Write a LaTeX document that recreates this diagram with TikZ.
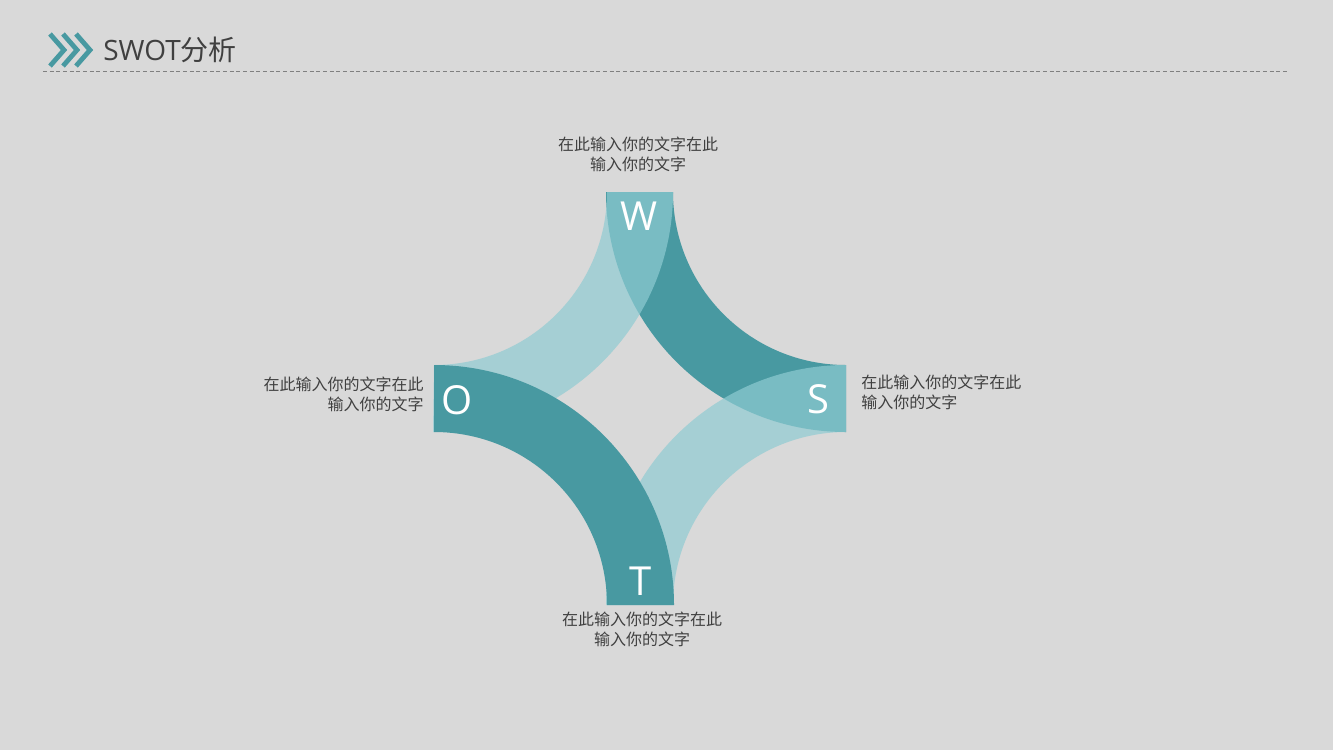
\documentclass[tikz,border=0pt]{standalone}
\usepackage{fontspec}
\setmainfont{Open Sans}
\newfontfamily\cjk{Noto Sans CJK SC}
\definecolor{bgGray}{HTML}{D9D9D9}
\definecolor{tealDark}{HTML}{4899A1}
\definecolor{tealLight}{HTML}{8FCBD2}
\definecolor{txtGray}{HTML}{404040}

\begin{document}
\begin{tikzpicture}[x=0.75pt, y=-0.75pt,
  darkband/.style={fill=tealDark},
  lightband/.style={fill=tealLight, fill opacity=0.7},
  letter/.style={text=white, anchor=base, font=\fontsize{30}{31}\selectfont},
  info/.style={text=txtGray, inner sep=0pt, font=\cjk\fontsize{12}{15}\selectfont}]
\useasboundingbox (0,0) rectangle (1333,750);
\fill[bgGray] (0,0) rectangle (1333,750);

% header
\foreach \x in {50,63,76}
  \draw[tealDark, line width=3.6pt, line join=miter] (\x,34) -- (\x+14,50) -- (\x,66);
\node[text=txtGray, anchor=base west, inner sep=0pt, font=\fontsize{21}{24}\selectfont] (title) at (103,60) {SWOT{\cjk 分析}};
\draw[gray, line width=0.6pt, dash pattern=on 3pt off 2pt] (43,71) -- (1289,71);

% bands
\fill[darkband] (606,192) arc[start angle=180, end angle=90, radius=240] -- (846,365) arc[start angle=90, end angle=180, radius=173] -- cycle;
\fill[lightband] (673,192) arc[start angle=0, end angle=90, radius=240] -- (434,365) arc[start angle=90, end angle=0, radius=173] -- cycle;
\fill[lightband] (606,605) arc[start angle=180, end angle=270, radius=240] -- (846,432) arc[start angle=270, end angle=180, radius=173] -- cycle;
\fill[darkband] (434,365) arc[start angle=270, end angle=360, radius=240] -- (607,605) arc[start angle=0, end angle=-90, radius=173] -- cycle;

% letters
\node[letter] (W) at (639,230) {W};
\node[letter] (S) at (818,413) {S};
\node[letter] (O) at (457,414) {O};
\node[letter] (T) at (641,595) {T};

% texts
\node[info, align=center] (0) at (638,154) {在此输入你的文字在此\\输入你的文字};
\node[info, align=right, anchor=east] (1) at (424,394) {在此输入你的文字在此\\输入你的文字};
\node[info, align=left, anchor=west] (2) at (861,392) {在此输入你的文字在此\\输入你的文字};
\node[info, align=center] (3) at (642,629) {在此输入你的文字在此\\输入你的文字};
\end{tikzpicture}
\end{document}
